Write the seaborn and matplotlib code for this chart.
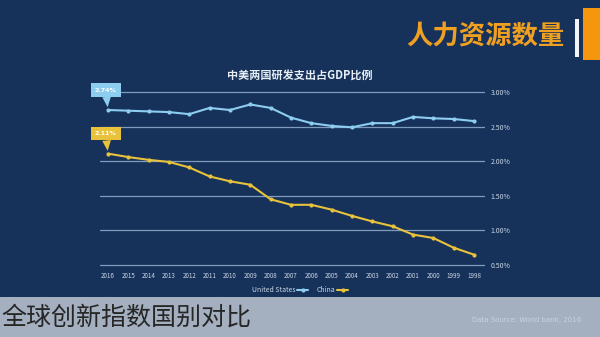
import matplotlib
matplotlib.use("Agg")
import matplotlib.pyplot as plt
from matplotlib.patches import Rectangle
import pandas as pd
import seaborn as sns

# R&D expenditure as share of GDP (%), World Bank
years = list(range(1998, 2017))
us_values = [2.58, 2.61, 2.62, 2.64, 2.55, 2.55, 2.49, 2.51, 2.55, 2.63,
             2.77, 2.82, 2.74, 2.77, 2.68, 2.71, 2.72, 2.73, 2.74]
china_values = [0.65, 0.75, 0.89, 0.94, 1.06, 1.13, 1.21, 1.30, 1.37, 1.37,
                1.45, 1.66, 1.71, 1.78, 1.91, 1.99, 2.02, 2.06, 2.11]
series_names = ["United States", "China"]
y_ticks = [0.5, 1.0, 1.5, 2.0, 2.5, 3.0]
y_tick_labels = ["0.50%", "1.00%", "1.50%", "2.00%", "2.50%", "3.00%"]

chart_title = "中美两国研发支出占GDP比例"
header = "人力资源数量"
caption = "全球创新指数国别对比"
source = "Data Source: World bank, 2016"

BG = "#17325a"
US_COLOR = "#8dcdf0"
CN_COLOR = "#e9c23c"
GRID = "#7f9bbd"
TEXT = "#c9d6e6"

df = pd.DataFrame({
    "year": years * 2,
    "value": us_values + china_values,
    "country": [series_names[0]] * len(years) + [series_names[1]] * len(years),
})

sns.set_theme(style="white")
plt.rcParams["font.family"] = ["Noto Sans CJK SC", "DejaVu Sans"]

W, H = 600, 337
fig = plt.figure(figsize=(W / 100, H / 100), dpi=100, facecolor=BG)

def fx(px):
    return px / W

def fy(py):
    return 1 - py / H

# bottom caption band
fig.patches.append(Rectangle((0, 0), 1, 40 / H, transform=fig.transFigure,
                             facecolor="#a4afbf", edgecolor="none", zorder=0))
fig.text(fx(1), fy(318), caption, fontsize=18, color="#262626",
         fontweight="light", va="center", ha="left")
fig.text(fx(527), fy(320), source, fontsize=5, color="#cbd3de",
         va="center", ha="center", family=["DejaVu Sans"])

# header block
fig.patches.append(Rectangle((fx(583), fy(60)), fx(17), 52 / H,
                             transform=fig.transFigure, facecolor="#f4970f",
                             edgecolor="none"))
fig.patches.append(Rectangle((fx(575), fy(57)), fx(4), 38 / H,
                             transform=fig.transFigure, facecolor="#f2f4f8",
                             edgecolor="none"))
fig.text(fx(565), fy(36), header, fontsize=19, color="#f0a021",
         fontweight="bold", va="center", ha="right")

fig.text(fx(300), fy(75), chart_title, fontsize=8, color="#e6edf5",
         fontweight="bold", va="center", ha="center")

# plotting area
ax = fig.add_axes([fx(100), fy(268), fx(385), 180 / H])
ax.set_facecolor(BG)
sns.lineplot(data=df, x="year", y="value", hue="country",
             hue_order=series_names, palette=[US_COLOR, CN_COLOR],
             marker="o", markersize=3, markeredgewidth=0, linewidth=1.5,
             ax=ax, legend=False, zorder=3)

ax.set_xlim(2016.39, 1997.46)
ax.set_ylim(0.457, 3.058)
ax.set_yticks(y_ticks)
ax.set_yticklabels(y_tick_labels)
ax.set_xticks(years)
ax.set_xticklabels([str(y) for y in years])
ax.yaxis.tick_right()
ax.tick_params(axis="y", length=0, labelsize=5, labelcolor=TEXT, pad=4)
ax.tick_params(axis="x", length=0, labelsize=4.5, labelcolor=TEXT, pad=3)
ax.grid(axis="y", color=GRID, linewidth=0.9)
ax.grid(axis="x", visible=False)
for s in ax.spines.values():
    s.set_visible(False)
ax.set_xlabel("")
ax.set_ylabel("")

# value callouts on the latest year
for vals, col in [(us_values, US_COLOR), (china_values, CN_COLOR)]:
    ax.annotate(f"{vals[-1]:.2f}%", xy=(years[-1], vals[-1]),
                xytext=(-2, 20), textcoords="offset pixels",
                ha="center", va="center", fontsize=4.5, color="white",
                fontweight="bold", family=["DejaVu Sans"],
                bbox=dict(boxstyle="square,pad=0.7", facecolor=col,
                          edgecolor="none"),
                arrowprops=dict(arrowstyle="wedge,tail_width=1.4,shrink_factor=0.5",
                                color=col, lw=0, shrinkA=0, shrinkB=2),
                zorder=4)

# legend
handles = [plt.Line2D([], [], color=US_COLOR, lw=1.5, marker="o", markersize=2),
           plt.Line2D([], [], color=CN_COLOR, lw=1.5, marker="o", markersize=2)]
fig.legend(handles, series_names, loc="center", bbox_to_anchor=(fx(300), fy(290)),
           ncol=2, frameon=False, fontsize=5, labelcolor=TEXT, markerfirst=False,
           handlelength=1.6, columnspacing=1.2, handletextpad=0.3)

fig.savefig("out.png", dpi=100, facecolor=BG)
